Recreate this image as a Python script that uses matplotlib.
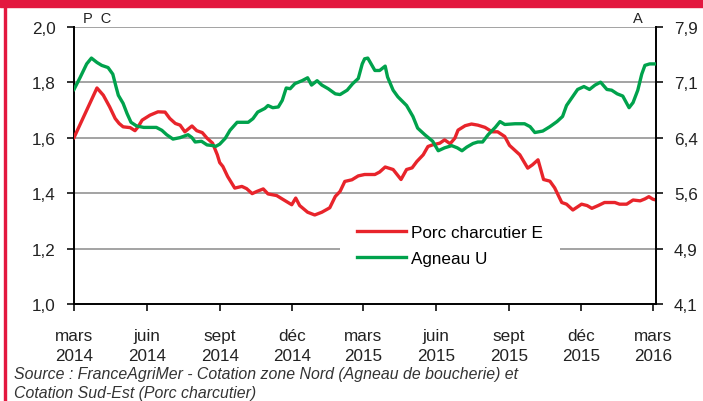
import numpy as np
import pandas as pd
import matplotlib
matplotlib.use("Agg")
import matplotlib.pyplot as plt
from matplotlib.lines import Line2D
from matplotlib.patches import Rectangle

plt.rcParams["font.family"] = ["Liberation Sans", "DejaVu Sans"]

DEBUT = pd.Timestamp("2014-03-01")

# Porc charcutier E (axe gauche, PC) - jours depuis le 1er mars 2014
jours_porc = [0, 29, 37, 45, 52, 57, 62, 71, 77, 81, 86, 96, 106, 115, 121, 128,
              134, 140, 149, 155, 162, 168, 175, 181, 184, 188, 194, 203, 212, 218,
              225, 231, 239, 245, 256, 264, 275, 280, 285, 295, 304, 313, 323, 330,
              336, 342, 351, 359, 367, 380, 386, 393, 403, 408, 413, 420, 427, 433,
              441, 447, 453, 462, 468, 475, 481, 485, 494, 502, 510, 519, 528, 535,
              544, 550, 563, 573, 579, 586, 593, 601, 607, 616, 622, 630, 641, 648,
              654, 662, 670, 683, 689, 698, 706, 715, 721, 726, 731, 735]
porc = [1.600, 1.779, 1.753, 1.711, 1.669, 1.651, 1.639, 1.636, 1.625, 1.639,
        1.663, 1.681, 1.693, 1.692, 1.669, 1.651, 1.645, 1.621, 1.642, 1.625,
        1.618, 1.598, 1.580, 1.538, 1.510, 1.496, 1.460, 1.418, 1.424, 1.416,
        1.398, 1.406, 1.415, 1.397, 1.391, 1.377, 1.358, 1.382, 1.355, 1.331,
        1.321, 1.331, 1.347, 1.388, 1.406, 1.442, 1.448, 1.462, 1.467, 1.467,
        1.476, 1.494, 1.485, 1.467, 1.449, 1.485, 1.491, 1.514, 1.538, 1.568,
        1.574, 1.580, 1.592, 1.578, 1.598, 1.627, 1.643, 1.649, 1.645, 1.637,
        1.621, 1.621, 1.604, 1.572, 1.538, 1.490, 1.502, 1.520, 1.449, 1.443,
        1.419, 1.366, 1.360, 1.339, 1.360, 1.355, 1.345, 1.355, 1.366, 1.366,
        1.360, 1.360, 1.375, 1.372, 1.379, 1.387, 1.378, 1.375]

# Agneau U (axe droit, A)
jours_agneau = [0, 8, 16, 22, 29, 35, 43, 49, 53, 56, 62, 67, 72, 79, 88, 104,
                111, 117, 125, 134, 144, 149, 153, 161, 168, 176, 179, 184, 191,
                197, 206, 220, 226, 232, 241, 245, 251, 258, 263, 268, 273, 279,
                288, 295, 300, 307, 313, 321, 330, 336, 345, 352, 359, 364, 367,
                371, 380, 386, 393, 396, 403, 409, 420, 428, 434, 443, 453, 460,
                468, 477, 484, 490, 496, 504, 510, 516, 523, 532, 538, 544, 557,
                569, 576, 582, 592, 601, 610, 617, 622, 629, 636, 644, 651, 658,
                665, 673, 679, 686, 693, 701, 706, 712, 717, 721, 727, 735]
agneau = [7.04, 7.21, 7.39, 7.47, 7.41, 7.37, 7.34, 7.25, 7.08, 6.96, 6.85,
          6.71, 6.59, 6.54, 6.52, 6.52, 6.48, 6.42, 6.36, 6.38, 6.42, 6.38,
          6.32, 6.33, 6.28, 6.27, 6.26, 6.29, 6.37, 6.48, 6.59, 6.59, 6.64,
          6.73, 6.78, 6.82, 6.79, 6.80, 6.89, 7.06, 7.05, 7.12, 7.16, 7.20,
          7.10, 7.16, 7.10, 7.05, 6.98, 6.97, 7.03, 7.12, 7.19, 7.39, 7.46,
          7.47, 7.30, 7.30, 7.36, 7.21, 7.03, 6.94, 6.82, 6.67, 6.51, 6.42,
          6.33, 6.20, 6.24, 6.27, 6.24, 6.20, 6.25, 6.30, 6.32, 6.32, 6.42,
          6.52, 6.60, 6.56, 6.57, 6.57, 6.53, 6.45, 6.47, 6.53, 6.60, 6.67,
          6.82, 6.93, 7.04, 7.08, 7.04, 7.10, 7.14, 7.04, 7.03, 6.98, 6.95,
          6.79, 6.86, 7.03, 7.25, 7.37, 7.39, 7.39]

ticks_dates = ["2014-03-01", "2014-06-01", "2014-09-01", "2014-12-01", "2015-03-01",
               "2015-06-01", "2015-09-01", "2015-12-01", "2016-03-01"]
ticks_labels = ["mars\n2014", "juin\n2014", "sept\n2014", "déc\n2014", "mars\n2015",
                "juin\n2015", "sept\n2015", "déc\n2015", "mars\n2016"]
gauche_ticks = [1.0, 1.2, 1.4, 1.6, 1.8, 2.0]
droite_labels = ["4,1", "4,9", "5,6", "6,4", "7,1", "7,9"]

ROUGE = "#E8242B"
VERT = "#00A24C"
CADRE = "#E3183F"

dates_porc = DEBUT + pd.to_timedelta(jours_porc, unit="D")
dates_agneau = DEBUT + pd.to_timedelta(jours_agneau, unit="D")

fig = plt.figure(figsize=(7.03, 4.02), dpi=100)
fig.patch.set_facecolor("white")
fig.patches.append(Rectangle((0, 1 - 8 / 402), 1, 8 / 402, transform=fig.transFigure,
                             color=CADRE, zorder=0))
fig.patches.append(Rectangle((4 / 703, 0), 2 / 703, 1, transform=fig.transFigure,
                             color=CADRE, zorder=0))

ax = fig.add_axes([74 / 703, 1 - 305 / 402, 582 / 703, 277.3 / 402])
ax2 = ax.twinx()

ax.set_ylim(1.0, 2.0)
ax.set_yticks(gauche_ticks)
ax.set_yticklabels([f"{v:.1f}".replace(".", ",") for v in gauche_ticks])
ax2.set_ylim(4.1, 7.9)
ax2.set_yticks(np.linspace(4.1, 7.9, 6))
ax2.set_yticklabels(droite_labels)

ax.set_xlim(DEBUT, DEBUT + pd.Timedelta(days=735))
ax.set_xticks(pd.to_datetime(ticks_dates))
ax.set_xticklabels(ticks_labels, linespacing=1.45)

for y in gauche_ticks[1:]:
    ax.axhline(y, color="#A3A3A3", lw=1.4, zorder=0)

ax.plot(dates_porc, porc, color=ROUGE, lw=2.4, zorder=3)
ax2.plot(dates_agneau, agneau, color=VERT, lw=2.4, zorder=3)

for a in (ax, ax2):
    a.spines["top"].set_visible(False)
    for s in ("left", "right", "bottom"):
        a.spines[s].set_linewidth(1.4)
    a.tick_params(labelsize=12.3, colors="#222222", width=1.3, length=5, pad=8)
ax.spines["right"].set_visible(False)
ax2.spines["left"].set_visible(False)
ax2.spines["bottom"].set_visible(False)
ax.tick_params(axis="x", pad=12)

handles = [Line2D([], [], color=ROUGE, lw=2.4), Line2D([], [], color=VERT, lw=2.4)]
leg = ax2.legend(handles, ["Porc charcutier E", "Agneau U"], loc="center",
                 bbox_to_anchor=(0.646, 0.211), fontsize=12.3, handlelength=2.9,
                 handletextpad=0.3, labelspacing=0.6, frameon=True,
                 facecolor="white", edgecolor="none", framealpha=1, borderpad=1.0)
leg.set_zorder(5)

fig.text(83 / 703, 1 - 19 / 402, "P  C", fontsize=10.5, color="#222222", va="center")
fig.text(643 / 703, 1 - 19 / 402, "A", fontsize=10.5, color="#222222", va="center", ha="right")

fig.text(14 / 703, 1 - 375 / 402, "Source : FranceAgriMer - Cotation zone Nord (Agneau de boucherie) et",
         fontsize=11.4, style="italic", color="#333333", va="center")
fig.text(14 / 703, 1 - 394 / 402, "Cotation Sud-Est (Porc charcutier)",
         fontsize=11.4, style="italic", color="#333333", va="center")

fig.savefig("out.png", dpi=100)
